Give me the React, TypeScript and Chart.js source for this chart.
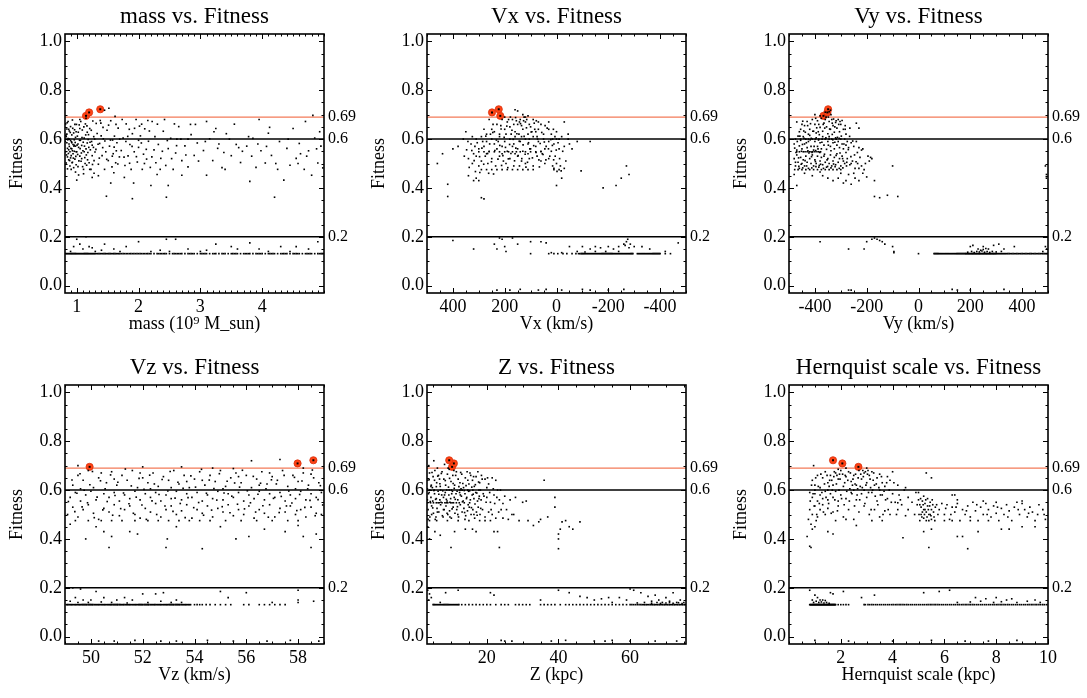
import React, { useEffect, useRef } from 'react';
import { Chart, registerables } from 'chart.js';
Chart.register(...registerables);

const FONT = "'Liberation Serif','Times New Roman',Times,serif";

// ---------- shared values ----------
const fitnessRange = [-0.03, 1.03];
const fitnessTicks = [0, 0.2, 0.4, 0.6, 0.8, 1.0];
const fitLines = [0.2, 0.6, 0.69];
const fitLineColors = ['#000000', '#000000', '#f37a58'];
const floorFitness = 0.131;

// ---------- mass ----------
const massRange = [0.81, 5.0];
const massTicks = [1, 2, 3, 4];
const massBest = [[1.15, .695], [1.2, .709], [1.38, .722]];
const massCloud = [
  [0.82,.662],[0.82,.548],[0.83,.61],[0.83,.502],[0.84,.585],[0.84,.641],[0.85,.527],[0.85,.478],[0.86,.602],[0.86,.672],[0.87,.556],[0.87,.515],[0.88,.633],[0.88,.57],[0.89,.49],[0.89,.548],[0.9,.651],[0.9,.594],[0.91,.532],[0.91,.476],[0.92,.617],[0.92,.56],[0.93,.505],[0.93,.678],[0.94,.578],[0.94,.54],[0.95,.625],[0.95,.483],[0.96,.597],[0.96,.55],[0.97,.518],[0.97,.66],[0.98,.571],[0.98,.607],[0.99,.495],[0.99,.548],[0.84,.62],[0.87,.64],[0.9,.523],[0.93,.552],[0.96,.575],[0.99,.63],[0.85,.562],[0.88,.6],[0.92,.585],
  [1.0,.548],[1.01,.612],[1.02,.487],[1.03,.566],[1.04,.658],[1.05,.53],[1.06,.595],[1.07,.509],[1.08,.574],[1.09,.637],[1.1,.552],[1.11,.476],[1.12,.604],[1.13,.524],[1.14,.662],[1.15,.56],[1.16,.493],[1.17,.584],[1.18,.545],[1.19,.618],[1.2,.503],[1.21,.643],[1.22,.556],[1.23,.476],[1.24,.59],[1.25,.532],[1.26,.674],[1.27,.566],[1.28,.512],[1.29,.6],[1.02,.58],[1.05,.643],[1.08,.52],[1.12,.548],[1.17,.628],[1.21,.476],[1.25,.575],[1.0,.432],[1.25,.443],[1.15,.685],[1.05,.68],
  [1.31,.558],[1.33,.623],[1.35,.497],[1.37,.582],[1.39,.665],[1.41,.532],[1.43,.601],[1.45,.476],[1.47,.548],[1.49,.636],[1.51,.512],[1.53,.571],[1.55,.675],[1.57,.486],[1.59,.54],[1.61,.612],[1.63,.503],[1.65,.585],[1.67,.645],[1.69,.527],[1.35,.45],[1.45,.718],[1.52,.726],[1.55,.42],[1.48,.366],[1.62,.693],[1.38,.676],[1.58,.596],[1.42,.565],[1.64,.552],
  [1.72,.553],[1.75,.604],[1.78,.492],[1.8,.662],[1.83,.531],[1.86,.578],[1.88,.476],[1.9,.622],[1.93,.548],[1.96,.68],[1.98,.506],[2.0,.566],[2.03,.613],[2.06,.476],[2.08,.538],[2.1,.642],[2.13,.518],[2.16,.591],[2.19,.484],[2.22,.672],[2.25,.556],[2.28,.503],[1.9,.356],[1.92,.42],[2.2,.41],[1.77,.443],[2.05,.661],[2.15,.676],[1.85,.64],[2.0,.595],
  [2.32,.578],[2.36,.521],[2.4,.632],[2.44,.492],[2.48,.561],[2.52,.603],[2.56,.476],[2.6,.543],[2.65,.651],[2.7,.512],[2.75,.572],[2.8,.486],[2.85,.618],[2.9,.533],[2.95,.584],[2.45,.362],[2.48,.41],[2.7,.452],[2.42,.68],[2.58,.662],[2.8,.6],[2.35,.476],[2.62,.6],[2.92,.66],
  [3.05,.553],[3.1,.452],[3.15,.601],[3.2,.512],[3.28,.562],[3.35,.483],[3.42,.622],[3.5,.532],[3.58,.578],[3.65,.504],[3.1,.672],[3.25,.643],[3.4,.476],[3.55,.661],[3.3,.58],[3.68,.55],
  [3.75,.571],[3.8,.427],[3.85,.603],[3.9,.484],[3.98,.552],[4.05,.502],[4.1,.624],[4.15,.533],[4.2,.362],[4.25,.476],[3.95,.68],[4.12,.648],[4.22,.5],[3.78,.61],
  [4.35,.432],[4.4,.562],[4.45,.493],[4.5,.643],[4.55,.521],[4.6,.582],[4.68,.476],[4.75,.552],[4.8,.452],[4.85,.604],[4.9,.502],[4.95,.571],[4.82,.697],[4.7,.672],[4.98,.482],[4.62,.54]
];
const massExtra = [[0.815,.59],[0.825,.615],[0.835,.535],[0.845,.667],[0.855,.597],[0.865,.541],[0.875,.58],[0.885,.512],[0.895,.627],[0.905,.562],[0.915,.589],[0.925,.503],[0.935,.644],[0.945,.522],[0.955,.571],[0.965,.638],[0.975,.586],[0.985,.529],[0.995,.66],[1.005,.575],[1.015,.537],[1.025,.628],[1.035,.511],[1.045,.595],[1.055,.561],[1.065,.672],[1.075,.543],[1.085,.606],[1.095,.487],[1.105,.587],[1.115,.65],[1.125,.571],[1.135,.5],[1.145,.617],[1.155,.535],[1.165,.654],[1.175,.515],[1.185,.598],[1.195,.566],[1.215,.587],[1.235,.636],[1.255,.496],[1.275,.61],[1.295,.547],[1.315,.664],[1.345,.579],[1.365,.522],[1.395,.613],[1.425,.648],[1.455,.592],[1.485,.517],[1.515,.657],[1.545,.596],[1.575,.53],[1.605,.567],[1.635,.66],[1.665,.498],[1.695,.6],[1.735,.68],[1.765,.526],[1.795,.59],[1.825,.611],[1.855,.501],[1.895,.57],[1.935,.644],[1.965,.528],[2.015,.653],[2.045,.584],[2.095,.5],[2.125,.558],[2.175,.633],[2.215,.527],[2.265,.61],[2.305,.661],[2.385,.55],[2.465,.594],[2.535,.52],[2.615,.573],[2.685,.6],[2.765,.535],[2.84,.66],[2.97,.51],[3.08,.59],[3.22,.63],[3.38,.545],[3.47,.6],[3.62,.565],[3.83,.53],[3.93,.58],[4.07,.57],[4.28,.59],[4.42,.6],[4.58,.5],[4.72,.53],[4.88,.56],[4.93,.63],[1.03,.453],[1.11,.458],[0.98,.465],[1.28,.46],[1.6,.462],[2.3,.455]];
const massBand = [[1.0,.19],[1.05,.17],[1.1,.15],[1.15,.2],[1.2,.16],[1.3,.14],[1.45,.17],[1.6,.15],[1.8,.16],[2.0,.18],[2.2,.14],[2.35,.145],[2.45,.19],[2.6,.19],[2.8,.15],[3.0,.14],[3.25,.17],[3.5,.16],[3.6,.15],[3.8,.175],[3.95,.15],[4.1,.14],[4.3,.16],[4.55,.16],[4.75,.15],[4.9,.18],[0.9,.14],[0.95,.16],[1.25,.155],[1.4,.145],[1.7,.14],[2.5,.14],[3.1,.145],[4.45,.14]];
const massFloorX = [0.82,0.85,0.88,0.91,0.94,0.97,1.0,1.03,1.06,1.09,1.12,1.15,1.18,1.21,1.24,1.27,1.3,1.34,1.38,1.42,1.46,1.5,1.54,1.58,1.62,1.66,1.7,1.75,1.8,1.85,1.9,1.95,2.0,2.05,2.1,2.15,2.2,2.3,2.35,2.4,2.45,2.55,2.6,2.65,2.7,2.8,2.85,2.9,3.0,3.05,3.1,3.2,3.25,3.35,3.4,3.5,3.55,3.6,3.7,3.75,3.8,3.9,3.95,4.0,4.1,4.15,4.2,4.3,4.35,4.4,4.5,4.55,4.6,4.7,4.75,4.8,4.9,4.95,4.99];
const massFloorX2 = [0.835,0.865,0.895,0.925,0.955,0.985,1.015,1.045,1.075,1.105,1.135,1.165,1.195,1.225,1.255,1.285,1.32,1.36,1.4,1.44,1.48,1.52,1.56,1.6,1.64,1.68,1.725,1.775,1.825,1.875,1.925,1.975,2.025,2.075,2.125,2.175,2.25,2.325,2.375,2.425,2.5,2.575,2.625,2.675,2.75,2.825,2.875,2.95,3.025,3.075,3.15,3.225,3.3,3.375,3.45,3.525,3.575,3.65,3.725,3.775,3.85,3.925,3.975,4.05,4.125,4.175,4.25,4.325,4.375,4.45,4.525,4.575,4.65,4.725,4.775,4.85,4.925,4.97];

// ---------- Vx ----------
const vxRange = [-500, 500];
const vxTicks = [400, 200, 0, -200, -400];
const vxBest = [[217, .695], [249, .709], [223, .722]];
const vxCloud = [
  [250,.64],[230,.66],[210,.68],[190,.67],[180,.65],[170,.68],[160,.63],[150,.66],[140,.68],[130,.64],[120,.67],[110,.62],[100,.65],[90,.68],[80,.63],[60,.66],[50,.62],[220,.62],[200,.64],[175,.62],[155,.675],[135,.655],[115,.68],[95,.63],[70,.64],[240,.63],[260,.68],[200,.69],[185,.68],[165,.66],[145,.62],[125,.69],[105,.66],[-30,.67],[30,.64],[20,.62],[0,.63],[160,.72],[150,.715],[130,.7],[110,.695],[120,.69],
  [330,.58],[310,.6],[300,.56],[290,.61],[280,.57],[270,.59],[260,.55],[250,.6],[240,.58],[230,.56],[220,.61],[210,.57],[200,.59],[190,.55],[180,.6],[170,.57],[160,.61],[150,.56],[140,.59],[130,.55],[120,.6],[110,.58],[100,.56],[90,.61],[80,.57],[70,.59],[60,.55],[50,.6],[40,.57],[30,.59],[20,.55],[10,.58],[0,.6],[-10,.56],[-20,.61],[315,.57],[285,.59],[255,.62],[225,.59],[195,.62],[165,.58],[135,.61],[105,.6],[75,.61],[45,.56],[15,.6],
  [300,.548],[280,.548],[260,.548],[240,.548],[220,.548],[200,.548],[185,.548],[170,.548],[155,.548],[140,.548],[120,.548],[100,.548],[80,.548],[60,.548],
  [340,.52],[325,.5],[310,.53],[300,.49],[290,.51],[275,.53],[265,.5],[250,.52],[235,.49],[220,.53],[205,.51],[195,.5],[180,.52],[165,.49],[150,.53],[135,.51],[120,.5],[105,.52],[90,.49],[75,.53],[60,.51],[45,.5],[30,.52],[15,.49],[0,.5],[-15,.49],[320,.54],[270,.54],[210,.54],[160,.54],[110,.54],[55,.54],[5,.53],
  [290,.475],[270,.475],[250,.475],[230,.475],[210,.475],[190,.475],[170,.475],[150,.475],[130,.475],[110,.475],[90,.475],[10,.475],[-10,.475],[-30,.48],
  [460,.5],[420,.415],[400,.56],[440,.54],[380,.57],[420,.365],[360,.6],[350,.63],[340,.45],[320,.43],[290,.36],[280,.355],[0,.41],[-20,.44],[10,.48],[-50,.58],[-80,.59],[-95,.47],[-130,.59],[-180,.4],[-230,.41],[-250,.44],[-270,.49],[-280,.455],[-10,.6],[-30,.57],[30,.67],[310,.44],[300,.43]
];
const vxExtra = [[327,.553],[318,.512],[306,.585],[297,.528],[288,.563],[281,.497],[273,.612],[266,.541],[258,.58],[251,.507],[246,.627],[238,.553],[232,.596],[226,.518],[219,.574],[214,.641],[207,.532],[202,.607],[197,.566],[192,.653],[186,.519],[181,.578],[176,.541],[172,.636],[167,.599],[162,.511],[157,.563],[153,.622],[148,.532],[144,.591],[139,.663],[134,.52],[129,.576],[125,.611],[121,.538],[116,.646],[112,.505],[108,.585],[103,.56],[98,.629],[93,.523],[88,.573],[84,.64],[79,.545],[73,.6],[68,.515],[63,.582],[57,.627],[52,.537],[47,.588],[41,.515],[36,.645],[31,.56],[26,.53],[22,.598],[16,.574],[11,.515],[6,.61],[1,.555],[-6,.585],[-12,.52],[-24,.55],[-36,.51],[-45,.6],[337,.484],[313,.467],[296,.463],[262,.46],[243,.457],[212,.492],[188,.483],[143,.49],[118,.485],[66,.486],[-2,.468],[-18,.47],[356,.53],[347,.556],[342,.59],[325,.61],[280,.64],[270,.62],[245,.66],[215,.655],[178,.69],[158,.688],[143,.67],[127,.675],[86,.665],[78,.675],[70,.67],[44,.655],[12,.64],[-45,.62],[-60,.56]];
const vxBand = [[400,.185],[320,.15],[220,.195],[210,.19],[170,.195],[240,.17],[230,.15],[200,.16],[195,.14],[150,.17],[100,.18],[60,.18],[40,.175],[20,.135],[-20,.135],[-50,.16],[-80,.14],[-100,.16],[-130,.15],[-150,.16],[-170,.155],[-200,.16],[-220,.15],[-240,.16],[-260,.17],[-270,.18],[-275,.19],[-280,.155],[-300,.16],[-330,.16],[-360,.15],[-420,.14],[-470,.175],[-285,.17],[-265,.165],[-150,.14],[-190,.14],[-240,.14],[-110,.138],[230,-.018],[180,-.018],[140,-.015],[70,-.018],[40,-.015],[-100,-.015],[-200,-.018],[-260,-.015],[-130,-.018],[-20,-.018]];
const vxFloorX = [-95,-103,-111,-119,-127,-135,-143,-151,-159,-167,-175,-183,-191,-199,-207,-215,-223,-231,-239,-247,-255,-263,-271,-279,-287,-295,-312,-320,-328,-336,-344,-352,-360,-368,-376,-384,-392,-400,-420,-440,30,10,-5,-25,-40,-60,-75,-85,100,-90];
const vxFloorX2 = [-99,-107,-115,-123,-131,-139,-147,-155,-163,-171,-179,-187,-195,-203,-211,-219,-227,-235,-243,-251,-259,-267,-275,-283,-291,-316,-324,-332,-340,-348,-356,-364,-372,-380,-388,-396];

// ---------- Vy ----------
const vyRange = [-500, 500];
const vyTicks = [-400, -200, 0, 200, 400];
const vyBest = [[-367, .695], [-352, .709], [-349, .722]];
const vyCloud = [
  [-440,.655],[-430,.672],[-420,.64],[-410,.68],[-400,.66],[-395,.625],[-390,.675],[-380,.648],[-375,.685],[-370,.632],[-365,.665],[-360,.68],[-355,.65],[-350,.622],[-345,.672],[-340,.64],[-335,.68],[-330,.655],[-325,.628],[-320,.668],[-315,.645],[-310,.68],[-305,.63],[-300,.66],[-295,.676],[-290,.64],[-280,.62],[-460,.63],[-450,.66],[-425,.62],[-405,.632],[-385,.66],[-362,.645],[-348,.69],[-338,.7],[-328,.682],[-318,.675],[-240,.665],[-230,.645],[-470,.67],[-400,.7],[-380,.695],[-340,.718],[-360,.71],[-345,.712],
  [-480,.58],[-475,.6],[-470,.555],[-465,.612],[-460,.572],[-455,.595],[-450,.56],[-445,.61],[-440,.58],[-435,.6],[-430,.565],[-425,.59],[-420,.615],[-415,.57],[-410,.6],[-405,.555],[-400,.59],[-395,.605],[-390,.57],[-385,.6],[-380,.585],[-375,.56],[-370,.61],[-365,.575],[-360,.6],[-355,.558],[-350,.59],[-345,.61],[-340,.57],[-335,.6],[-330,.585],[-325,.56],[-320,.605],[-315,.575],[-310,.59],[-305,.565],[-300,.6],[-295,.58],[-290,.56],[-285,.6],[-280,.575],[-275,.59],[-270,.565],[-260,.585],[-250,.57],[-230,.565],[-220,.555],[-240,.59],[-455,.6],[-425,.6],[-398,.6],[-372,.6],[-345,.6],[-318,.6],
  [-445,.548],[-438,.548],[-430,.548],[-422,.548],[-415,.548],[-408,.548],[-400,.548],[-392,.548],[-385,.548],[-378,.548],[-470,.548],[-460,.548],
  [-480,.52],[-475,.49],[-470,.535],[-465,.505],[-460,.48],[-455,.525],[-450,.5],[-445,.515],[-440,.49],[-435,.53],[-430,.505],[-425,.48],[-420,.52],[-415,.5],[-410,.535],[-405,.49],[-400,.515],[-395,.5],[-390,.53],[-385,.485],[-380,.51],[-375,.525],[-370,.495],[-365,.53],[-360,.505],[-355,.485],[-350,.52],[-345,.5],[-340,.535],[-335,.49],[-330,.51],[-325,.525],[-320,.495],[-315,.54],[-310,.505],[-305,.52],[-300,.49],[-295,.53],[-290,.51],[-285,.5],[-275,.52],[-265,.495],[-255,.51],[-245,.48],[-235,.5],[-220,.49],[-210,.475],[-195,.53],[-185,.525],[-180,.52],[-230,.48],[-260,.5],[-280,.545],
  [-478,.475],[-465,.475],[-450,.475],[-435,.475],[-420,.475],[-405,.475],[-390,.475],[-375,.475],[-360,.475],[-345,.475],[-330,.475],[-315,.475],[-300,.475],
  [-470,.41],[-370,.45],[-350,.44],[-330,.43],[-310,.44],[-290,.42],[-280,.43],[-260,.415],[-250,.46],[-230,.43],[-215,.46],[-200,.445],[-170,.43],[-170,.365],[-150,.36],[-120,.37],[-80,.365],[-100,.49],[490,.49],[494,.455],[494,.44]
];
const vyExtra = [[-478,.563],[-473,.545],[-468,.59],[-463,.523],[-458,.612],[-453,.497],[-448,.578],[-443,.633],[-438,.512],[-433,.585],[-428,.655],[-423,.543],[-418,.597],[-413,.528],[-408,.632],[-403,.57],[-398,.508],[-393,.646],[-388,.56],[-383,.618],[-378,.497],[-373,.587],[-368,.66],[-363,.538],[-358,.604],[-353,.515],[-348,.575],[-343,.641],[-338,.552],[-333,.619],[-328,.498],[-323,.587],[-318,.533],[-313,.607],[-308,.66],[-303,.543],[-298,.612],[-293,.52],[-288,.58],[-283,.64],[-277,.505],[-271,.557],[-266,.611],[-261,.528],[-254,.592],[-247,.535],[-241,.507],[-236,.545],[-226,.525],[-215,.56],[-205,.5],[-190,.51],[-455,.64],[-447,.673],[-437,.628],[-417,.663],[-397,.685],[-387,.63],[-357,.69],[-333,.665],[-323,.65],[-303,.672],[-283,.655],[-265,.645],[-475,.505],[-462,.488],[-447,.482],[-432,.49],[-412,.482],[-396,.487],[-383,.492],[-367,.48],[-351,.488],[-338,.482],[-322,.487],[-306,.48],[-292,.482],[-278,.49],[-452,.55],[-427,.552],[-411,.545],[-397,.553],[-381,.545],[-442,.603],[-414,.603],[-386,.596],[-358,.604],[-331,.597],[-306,.603],[-480,.455],[-440,.46],[-410,.45],[-380,.465],[-300,.46],[-270,.455],[-245,.44]];
const vyBand = [[-380,.18],[-270,.15],[-210,.15],[-200,.18],[-180,.19],[-170,.195],[-160,.19],[-150,.185],[-140,.18],[-130,.17],[-100,.16],[-95,.14],[-95,.135],[200,.16],[210,.165],[230,.15],[250,.16],[270,.15],[290,.165],[310,.17],[330,.15],[370,.16],[490,.16],[495,.15],[480,.14],[190,.137],[205,.14],[215,.136],[225,.14],[235,.138],[245,.142],[255,.137],[265,.14],[275,.136],[240,.145],[250,.148],[260,.152],[285,.14],[300,.138],[320,.14],[-270,-.018],[-260,-.018],[130,-.015],[150,-.018],[330,-.015],[200,-.018]];
const vyFloorX = [0,60,68,76,84,92,100,108,116,124,132,140,148,156,164,172,180,186,192,198,204,210,216,222,228,234,240,246,252,258,264,270,276,282,288,294,300,308,316,324,332,340,350,360,370,380,390,400,410,420,430,440,450,460,470,480,490,498];
const vyFloorX2 = [64,72,80,88,96,104,112,120,128,136,144,152,160,168,176,183,189,195,201,207,213,219,225,231,237,243,249,255,261,267,273,279,285,291,297,304,312,320,328,336,345,355,365,375,385,395,405,415,425,435,445,455,465,475,485,494];

// ---------- Vz ----------
const vzRange = [49, 59];
const vzTicks = [50, 52, 54, 56, 58];
const vzBest = [[49.95, .695], [57.98, .709], [58.59, .722]];
const vzCloud = [
  [49.3,.62],[49.5,.66],[49.7,.64],[49.9,.68],[50.1,.61],[50.3,.65],[50.6,.63],[50.8,.675],[51.0,.62],[51.2,.66],[51.4,.64],[51.6,.68],[51.8,.61],[52.0,.65],[52.2,.63],[52.4,.67],[52.6,.615],[52.8,.655],[53.0,.64],[53.2,.68],[53.4,.625],[53.6,.66],[53.8,.61],[54.0,.645],[54.2,.675],[54.4,.62],[54.6,.66],[54.8,.635],[55.0,.68],[55.2,.615],[55.4,.65],[55.6,.67],[55.8,.63],[56.0,.66],[56.2,.61],[56.4,.645],[56.6,.675],[56.8,.625],[57.0,.655],[57.2,.64],[57.4,.68],[57.6,.615],[57.8,.66],[58.0,.635],[58.2,.67],[58.4,.62],[58.6,.65],[58.8,.63],[49.6,.605],[50.9,.645],[52.3,.605],[53.7,.635],[55.1,.605],[56.5,.62],[57.9,.605],[54.3,.64],[55.7,.655],[51.9,.67],[50.4,.67],[56.9,.67],[58.5,.665],[53.1,.61],
  [49.5,.7],[52.0,.695],[53.5,.695],[54.7,.69],[56.2,.72],[57.3,.725],[55.5,.688],[58.2,.69],
  [49.2,.57],[49.4,.59],[49.6,.555],[49.8,.58],[50.0,.595],[50.2,.56],[50.5,.585],[50.7,.57],[50.9,.59],[51.1,.555],[51.3,.58],[51.5,.565],[51.7,.595],[51.9,.56],[52.1,.585],[52.3,.57],[52.5,.59],[52.7,.555],[52.9,.58],[53.1,.565],[53.3,.595],[53.5,.56],[53.7,.585],[53.9,.57],[54.1,.59],[54.3,.555],[54.5,.58],[54.7,.565],[54.9,.595],[55.1,.56],[55.3,.585],[55.5,.57],[55.7,.59],[55.9,.555],[56.1,.58],[56.3,.565],[56.5,.595],[56.7,.56],[56.9,.585],[57.1,.57],[57.3,.59],[57.5,.555],[57.7,.58],[57.9,.565],[58.1,.595],[58.3,.56],[58.5,.585],[58.7,.57],[58.9,.59],
  [49.1,.5],[49.3,.53],[49.5,.49],[49.7,.52],[49.9,.54],[50.1,.505],[50.3,.48],[50.5,.525],[50.7,.51],[50.9,.54],[51.1,.495],[51.3,.52],[51.5,.535],[51.7,.5],[51.9,.485],[52.1,.525],[52.3,.51],[52.5,.545],[52.7,.49],[52.9,.52],[53.1,.535],[53.3,.5],[53.5,.515],[53.7,.54],[53.9,.485],[54.1,.52],[54.3,.505],[54.5,.535],[54.7,.49],[54.9,.525],[55.1,.51],[55.3,.54],[55.5,.495],[55.7,.52],[55.9,.5],[56.1,.535],[56.3,.485],[56.5,.52],[56.7,.505],[56.9,.54],[57.1,.49],[57.3,.525],[57.5,.51],[57.7,.535],[57.9,.5],[58.1,.52],[58.3,.49],[58.5,.53],[58.7,.505],[58.9,.5],
  [49.4,.475],[49.9,.475],[50.4,.475],[50.8,.475],[51.2,.475],[51.7,.475],[52.2,.475],[52.6,.475],[53.0,.475],[53.4,.475],[53.8,.475],[54.2,.475],[54.6,.475],[55.2,.475],[55.8,.475],[56.4,.475],[57.0,.475],[57.6,.475],[58.0,.475],
  [49.8,.4],[50.7,.365],[50.5,.43],[50.8,.41],[51.5,.43],[51.8,.42],[52.9,.365],[52.95,.4],[54.3,.36],[55.6,.4],[56.1,.41],[57.5,.43],[58.2,.41],[58.5,.365],[58.7,.42],[49.2,.46],[50.2,.45],[53.3,.45],[55.0,.45],[56.7,.44],[58.0,.455]
];
const vzExtra = [[49.13,.553],[49.27,.641],[49.38,.512],[49.46,.587],[49.58,.667],[49.66,.531],[49.74,.599],[49.87,.548],[49.96,.622],[50.06,.676],[50.13,.487],[50.24,.571],[50.37,.638],[50.46,.519],[50.55,.605],[50.63,.553],[50.76,.662],[50.84,.497],[50.93,.578],[51.04,.632],[51.15,.524],[51.26,.588],[51.33,.686],[51.47,.544],[51.56,.617],[51.64,.505],[51.75,.571],[51.86,.648],[51.97,.539],[52.05,.603],[52.14,.48],[52.27,.661],[52.36,.556],[52.45,.625],[52.54,.5],[52.63,.582],[52.75,.643],[52.86,.535],[52.97,.596],[53.06,.676],[53.17,.513],[53.25,.567],[53.36,.632],[53.45,.545],[53.56,.607],[53.64,.487],[53.75,.569],[53.86,.658],[53.97,.528],[54.04,.612],[54.16,.549],[54.27,.685],[54.35,.497],[54.46,.587],[54.57,.641],[54.66,.518],[54.75,.606],[54.86,.559],[54.96,.667],[55.07,.532],[55.14,.588],[55.26,.636],[55.37,.507],[55.44,.575],[55.55,.629],[55.66,.542],[55.74,.612],[55.85,.681],[55.93,.523],[56.04,.597],[56.16,.548],[56.27,.656],[56.36,.51],[56.45,.583],[56.55,.628],[56.64,.536],[56.76,.605],[56.85,.489],[56.97,.642],[57.05,.566],[57.16,.625],[57.27,.508],[57.35,.574],[57.46,.66],[57.55,.535],[57.64,.596],[57.76,.547],[57.86,.652],[57.95,.516],[58.06,.582],[58.15,.637],[58.26,.529],[58.37,.605],[58.46,.558],[58.55,.682],[58.66,.495],[58.77,.561],[58.86,.618],[58.95,.539]];
const vzBand = [[49.3,.2],[49.6,.195],[50.2,.185],[49.4,.16],[49.7,.15],[50,.15],[50.5,.16],[51,.15],[51.3,.16],[51.6,.15],[52,.175],[52.5,.175],[52.8,.18],[53.3,.15],[53.5,.14],[55,.185],[55.3,.16],[56,.18],[57,.14],[58,.19],[58,.15],[58,.14],[58.6,.145],[49.2,.145],[49.5,.14],[49.9,.14],[50.4,.142],[50.8,.14],[51.4,.138],[52.2,.14],[52.7,.145],[53.1,.14],[50.3,-.018],[50.9,-.018],[51.7,-.015],[52.7,-.018],[53.3,-.018],[54.5,-.015],[55.5,-.018],[56.8,-.018],[57.7,-.015],[58.8,-.018]];
const vzFloorX = [49.05,49.12,49.21,49.28,49.37,49.44,49.53,49.6,49.69,49.77,49.84,49.93,50.01,50.08,50.17,50.25,50.32,50.41,50.49,50.56,50.65,50.73,50.8,50.89,50.97,51.04,51.13,51.21,51.28,51.37,51.45,51.52,51.61,51.69,51.76,51.85,51.93,52.0,52.09,52.17,52.24,52.33,52.41,52.48,52.57,52.65,52.72,52.81,52.89,52.96,53.05,53.13,53.2,53.29,53.37,53.44,53.53,53.61,53.68,53.77,53.85,54.0,54.1,54.2,54.3,54.45,54.6,54.8,55.0,55.2,55.4,55.9,56.1,56.5,56.7,56.9,57.1,57.3,57.5];
const vzFloorX2 = [49.09,49.17,49.25,49.33,49.41,49.49,49.57,49.65,49.73,49.81,49.89,49.97,50.05,50.13,50.21,50.29,50.37,50.45,50.53,50.61,50.69,50.77,50.85,50.93,51.01,51.09,51.17,51.25,51.33,51.41,51.49,51.57,51.65,51.73,51.81,51.89,51.97,52.05,52.13,52.21,52.29,52.37,52.45,52.53,52.61,52.69,52.77,52.85,52.93,53.01,53.09,53.17,53.25,53.33,53.41,53.49,53.57,53.65,53.73,53.81];

// ---------- Z ----------
const zRange = [3.3, 75.6];
const zTicks = [20, 40, 60];
const zBest = [[10.3, .695], [10.8, .709], [9.5, .722]];
const zCloud = [
  [3.5,.64],[4.0,.67],[4.5,.62],[5.0,.655],[5.5,.68],[6.0,.63],[6.5,.66],[7.0,.615],[7.5,.675],[8.0,.645],[8.5,.62],[9.0,.665],[9.5,.685],[10.0,.635],[10.5,.66],[11.0,.62],[11.5,.675],[12.0,.645],[12.5,.63],[13.0,.665],[13.5,.61],[14.0,.65],[14.5,.675],[15.0,.625],[15.5,.66],[16.0,.64],[16.5,.615],[17.0,.655],[17.5,.675],[18.0,.63],[18.5,.66],[19.5,.645],[20.5,.625],[21.5,.65],[22.5,.64],[4.8,.61],[6.8,.645],[8.8,.6],[10.8,.68],[12.8,.605],[3.8,.7],[5.2,.72],[8.2,.705],[9.2,.69],[6.2,.69],[36.0,.64],[20.0,.61],[23.0,.6],
  [3.4,.56],[3.9,.59],[4.4,.57],[4.9,.555],[5.4,.585],[5.9,.565],[6.4,.595],[6.9,.56],[7.4,.58],[7.9,.57],[8.4,.59],[8.9,.555],[9.4,.58],[9.9,.565],[10.4,.595],[10.9,.57],[11.4,.585],[11.9,.56],[12.4,.59],[12.9,.575],[13.4,.555],[13.9,.585],[14.4,.57],[14.9,.595],[15.4,.56],[15.9,.58],[16.4,.565],[16.9,.59],[17.4,.555],[17.9,.575],[18.4,.56],[19.0,.585],[20.0,.57],[21.0,.55],[22.0,.58],[23.5,.56],[25.0,.575],[28.0,.57],[30.0,.55],[31.0,.555],[39.0,.57],[4.1,.6],[7.1,.6],[10.1,.6],[13.1,.6],[16.1,.6],
  [3.5,.548],[4.3,.548],[5.1,.548],[5.9,.548],[6.7,.548],[7.5,.548],[8.3,.548],[9.1,.548],[9.9,.548],[10.7,.548],[11.5,.548],[12.3,.548],
  [3.6,.52],[4.1,.49],[4.6,.535],[5.1,.505],[5.6,.48],[6.1,.525],[6.6,.51],[7.1,.54],[7.6,.495],[8.1,.52],[8.6,.535],[9.1,.5],[9.6,.515],[10.1,.485],[10.6,.53],[11.1,.505],[11.6,.52],[12.1,.49],[12.6,.54],[13.1,.51],[13.6,.525],[14.1,.495],[14.6,.515],[15.1,.53],[15.6,.5],[16.1,.52],[16.6,.485],[17.1,.51],[17.6,.53],[18.1,.5],[18.8,.52],[19.5,.49],[20.5,.51],[21.5,.5],[22.5,.485],[24.0,.52],[26.0,.48],[27.0,.5],[29.0,.475],[31.5,.475],[33.0,.455],[35.0,.48],[37.0,.49],[39.0,.53],[41.0,.47],[42.0,.475],[43.0,.45],[44.0,.44],[46.0,.47],[40.5,.44],[34.5,.47],[19.5,.475],[18.0,.475],[15.0,.475],[12.0,.475],[9.0,.475],[6.0,.475],[4.0,.475],[21.0,.475],
  [4.0,.4],[7.0,.415],[10.0,.365],[11.0,.43],[14.0,.44],[16.0,.44],[17.0,.43],[22.0,.43],[23.0,.43],[23.5,.365],[40.0,.42],[40.0,.4],[40.0,.36],[3.5,.45],[5.5,.43]
];
const zExtra = [[3.4,.605],[3.7,.585],[3.9,.642],[4.2,.553],[4.4,.615],[4.7,.672],[4.9,.527],[5.2,.598],[5.4,.64],[5.7,.562],[5.9,.614],[6.2,.51],[6.3,.657],[6.6,.583],[6.9,.626],[7.2,.55],[7.3,.668],[7.7,.597],[7.9,.52],[8.2,.58],[8.4,.639],[8.7,.562],[8.9,.505],[9.3,.612],[9.6,.648],[9.7,.55],[10.2,.585],[10.3,.523],[10.6,.627],[10.9,.607],[11.2,.562],[11.3,.66],[11.7,.595],[11.8,.532],[12.2,.614],[12.6,.58],[12.7,.672],[13.2,.552],[13.3,.627],[13.7,.598],[13.8,.508],[14.2,.618],[14.3,.565],[14.7,.64],[14.8,.54],[15.2,.597],[15.3,.67],[15.7,.528],[15.8,.612],[16.2,.583],[16.3,.655],[16.7,.543],[16.8,.622],[17.2,.588],[17.3,.497],[17.7,.633],[17.8,.565],[18.2,.6],[18.3,.525],[18.7,.645],[19.2,.575],[19.8,.55],[20.2,.65],[20.8,.59],[21.2,.52],[21.8,.605],[22.2,.545],[22.8,.57],[23.3,.51],[23.8,.6],[24.5,.545],[25.5,.52],[26.5,.56],[27.5,.5],[24.5,.485],[3.6,.48],[4.6,.5],[5.8,.49],[7.8,.49],[9.7,.49],[11.9,.5],[13.9,.48],[16.4,.5],[6.4,.548],[8.7,.548],[10.3,.548],[13.7,.548],[15.2,.548],[5.3,.6],[9.5,.6],[12.5,.6],[14.7,.6],[17.8,.6]];
const zBand = [[3.5,.19],[4,.175],[4.5,.16],[3.8,.15],[7,.14],[8.5,.18],[12,.19],[21,.18],[22,.17],[35,.15],[40,.19],[43,.18],[46,.165],[48,.16],[50,.15],[52,.155],[54,.16],[55,.14],[57,.16],[59,.15],[60,.195],[61,.19],[63,.18],[65,.165],[67,.17],[68,.15],[70,.16],[72,.18],[74,.15],[75,.14],[66,.145],[69,.14],[71,.145],[73,.14],[66,.137],[67.5,.14],[68.5,.136],[70,.138],[71,.14],[72,.137],[73.5,.139],[74.5,.136],[64,.14],[62,.138],[24,-.015],[25,-.018],[27,-.018],[38,-.018],[42,-.015],[50,-.018],[53,-.018],[55,-.015],[60,-.018],[67,-.018],[73,-.018]];
const zFloorX = [5,5.6,6.2,6.8,7.4,8,8.6,9.2,9.8,10.4,11,11.6,12.2,13,14,15,16,17,18,19,20,21,22.5,24,25,26,28,29,30,31,32,35,36,37,38,39,40.5,42,44,45,47,48,50,51,52,53,54,55,56,57,58,59,60,61,62,63,63.8,64.5,65.2,66,66.7,67.4,68.1,68.8,69.5,70.2,70.9,71.6,72.3,73,73.7,74.4,75.1];
const zFloorX2 = [60.5,61.5,62.5,63.4,64.1,64.8,65.6,66.3,67,67.7,68.4,69.1,69.8,70.5,71.2,71.9,72.6,73.3,74,74.7,75.4,5.3,5.9,6.5,7.1,7.7,8.3,8.9,9.5,10.1,10.7,11.3,11.9,43,46,49];

// ---------- Hernquist scale ----------
const hernRange = [0, 10];
const hernTicks = [2, 4, 6, 8, 10];
const hernBest = [[2.68, .695], [2.06, .709], [1.7, .722]];
const hernCloud = [
  [0.9,.64],[1.0,.62],[1.1,.66],[1.2,.61],[1.3,.65],[1.4,.675],[1.5,.63],[1.6,.66],[1.7,.62],[1.8,.67],[1.9,.645],[2.0,.68],[2.1,.615],[2.2,.655],[2.3,.675],[2.4,.635],[2.5,.66],[2.6,.62],[2.7,.68],[2.8,.645],[2.9,.67],[3.0,.63],[3.1,.66],[3.2,.675],[3.3,.62],[3.4,.65],[3.5,.665],[3.6,.63],[3.7,.615],[3.8,.655],[3.9,.64],[4.0,.675],[1.75,.675],[1.85,.66],[1.95,.665],[2.85,.68],[2.95,.675],[3.05,.68],[2.45,.62],[2.65,.605],[1.55,.615],[1.65,.64],[2.15,.63],[3.25,.64],[4.2,.62],[4.5,.61],[0.95,.7],[2.2,.69],[3.0,.69],[1.9,.685],[5.3,.67],[5.5,.65],[6.4,.58],[2.55,.625],[2.75,.615],[2.9,.6],[3.15,.61],[2.35,.605],
  [0.8,.59],[0.9,.57],[1.0,.585],[1.1,.555],[1.2,.58],[1.3,.565],[1.4,.595],[1.5,.56],[1.6,.585],[1.7,.57],[1.8,.595],[1.9,.555],[2.0,.58],[2.2,.565],[2.4,.59],[2.6,.56],[2.8,.585],[3.0,.57],[3.2,.59],[3.4,.555],[3.6,.58],[3.8,.565],[4.0,.585],[4.3,.56],[4.6,.57],[4.9,.59],[3.5,.6],[2.5,.6],[1.5,.6],[1.0,.6],[4.1,.55],[4.2,.548],
  [0.8,.52],[0.9,.5],[1.0,.535],[1.1,.49],[1.2,.52],[1.3,.54],[1.4,.5],[1.5,.525],[1.7,.51],[1.9,.535],[2.1,.49],[2.3,.52],[2.5,.48],[2.7,.51],[2.9,.535],[3.1,.5],[3.3,.52],[3.5,.49],[3.7,.515],[3.9,.5],[4.2,.52],[4.5,.495],[1.05,.475],[1.8,.475],[2.2,.48],[3.2,.475],[3.6,.475],
  [5.0,.56],[5.05,.54],[5.1,.53],[5.15,.555],[5.2,.52],[5.25,.545],[5.3,.51],[5.35,.535],[5.4,.5],[5.45,.55],[5.5,.52],[5.55,.54],[5.6,.49],[5.65,.53],[5.1,.5],[5.2,.485],[5.3,.475],[5.4,.475],[5.0,.59],[5.2,.575],[5.35,.565],[5.05,.475],[5.5,.48],[5.15,.51],[5.45,.5],[5.25,.52],[5.8,.52],[5.9,.545],[6.0,.5],[6.1,.54],[6.2,.48],[6.3,.53],[6.4,.51],[6.5,.545],[6.6,.475],[6.7,.52],[6.8,.5],[6.9,.535],[7.0,.49],[7.1,.55],[7.2,.515],[7.3,.475],[7.4,.53],[7.5,.5],[7.6,.545],[7.7,.52],[7.8,.49],[7.9,.535],[8.0,.505],[8.1,.475],[8.2,.525],[8.3,.5],[8.4,.54],[8.5,.515],[8.6,.475],[8.7,.53],[8.8,.55],[8.9,.5],[9.0,.545],[9.1,.52],[9.2,.49],[9.3,.53],[9.4,.51],[9.5,.475],[9.6,.5],[9.8,.52],[9.9,.48],[6.0,.475],[6.3,.475],[7.0,.475],[7.7,.475],[6.5,.56],[7.5,.555],[8.0,.55],[9.0,.555],[6.3,.58],
  [0.7,.41],[0.75,.48],[0.8,.37],[0.85,.365],[0.9,.44],[1.5,.43],[1.7,.42],[2.6,.455],[4.4,.405],[5.2,.43],[5.4,.365],[5.5,.44],[6.5,.41],[6.7,.41],[6.9,.36],[7.3,.43],[8.2,.44],[8.5,.44],[9.0,.45],[9.5,.45],[0.85,.46],[1.0,.45]
];
const hernExtra = [[0.82,.555],[0.87,.62],[0.93,.585],[0.97,.535],[1.03,.65],[1.07,.5],[1.13,.615],[1.17,.545],[1.23,.665],[1.27,.59],[1.33,.51],[1.37,.625],[1.43,.57],[1.47,.66],[1.53,.545],[1.57,.64],[1.63,.505],[1.67,.6],[1.73,.655],[1.77,.56],[1.83,.625],[1.87,.515],[1.93,.6],[1.97,.645],[2.03,.565],[2.07,.665],[2.13,.54],[2.17,.66],[2.23,.595],[2.27,.64],[2.33,.555],[2.37,.67],[2.43,.585],[2.47,.645],[2.53,.535],[2.57,.665],[2.63,.58],[2.67,.65],[2.73,.56],[2.77,.665],[2.83,.61],[2.87,.655],[2.93,.545],[2.97,.62],[3.03,.665],[3.07,.59],[3.13,.645],[3.17,.52],[3.23,.6],[3.27,.67],[3.33,.575],[3.37,.625],[3.43,.54],[3.47,.61],[3.53,.58],[3.57,.655],[3.63,.5],[3.67,.595],[3.73,.56],[3.77,.63],[3.83,.52],[3.87,.6],[3.95,.55],[4.05,.63],[4.15,.5],[4.25,.58],[4.35,.54],[4.45,.6],[4.6,.52],[4.75,.55],[4.85,.5],[4.95,.54],[5.02,.5],[5.08,.565],[5.13,.49],[5.18,.54],[5.23,.5],[5.28,.56],[5.33,.49],[5.38,.52],[5.43,.535],[5.48,.495],[5.53,.56],[5.58,.51],[5.63,.475],[5.7,.54],[5.75,.5],[6.05,.525],[6.25,.5],[6.45,.53],[6.85,.515],[7.25,.54],[7.65,.5],[8.05,.53],[8.45,.49],[8.85,.52],[9.25,.505],[9.65,.54],[9.85,.5]];
const hernBand = [[0.8,.19],[1.0,.17],[1.1,.16],[1.2,.15],[1.3,.15],[1.6,.18],[1.7,.175],[2.1,.185],[2.8,.16],[3.3,.17],[5.2,.18],[5.8,.185],[6.2,.19],[7.2,.16],[7.6,.155],[8,.16],[8.4,.15],[8.6,.155],[9.2,.145],[9.5,.15],[0.9,.15],[1.05,.145],[1.15,.14],[1.25,.142],[1.35,.138],[1.45,.14],[1.55,.137],[0.95,.14],[1.4,.148],[6.5,.14],[7.0,.142],[7.4,.145],[7.9,.14],[8.2,.143],[8.8,.14],[9.7,.14],[1,-.015],[2.3,-.018],[4,-.018],[5.5,-.015],[6.8,-.018],[7.7,-.018],[8.8,-.015]];
const hernFloorX = [0.8,0.84,0.88,0.92,0.96,1.0,1.04,1.08,1.12,1.16,1.2,1.24,1.28,1.32,1.36,1.4,1.44,1.48,1.52,1.56,1.6,1.64,1.68,1.72,1.76,1.8,1.9,2.0,2.1,2.2,2.3,2.9,3.05,3.2,3.35,3.5,3.65,3.8,3.95,4.1,4.25,4.4,4.55,4.7,4.85,5.0,5.15,5.3,5.45,5.6,5.75,5.9,6.05,6.2,6.35,6.5,6.65,6.8,6.95,7.1,7.25,7.4,7.55,7.7,7.85,8.0,8.15,8.3,8.45,8.6,8.75,8.9,9.05,9.2,9.35,9.5,9.65,9.8,9.95];
const hernFloorX2 = [0.82,0.86,0.9,0.94,0.98,1.02,1.06,1.1,1.14,1.18,1.22,1.26,1.3,1.34,1.38,1.42,1.46,1.5,1.54,1.58,1.62,1.66,1.7,1.74,1.78,2.95,3.12,3.27,3.42,3.57,3.72,3.87,4.02,4.17,4.32,4.47,4.62,4.77,4.92,5.07,5.22,5.37,5.52,5.67,5.82,5.97,6.12,6.27,6.42,6.57,6.72,6.87,7.02,7.17,7.32,7.47,7.62,7.77,7.92,8.07,8.22,8.37,8.52,8.67,8.82,8.97,9.12,9.27,9.42,9.57,9.72,9.87];

type Pair = number[];
interface PanelCfg {
  title: string; xLabel: string; range: number[]; reverse: boolean;
  ticks: number[]; minorStep: number;
  cloud: Pair[]; band: Pair[]; floorX: number[]; best: Pair[];
}

const panels: PanelCfg[] = [
  { title: 'mass vs. Fitness', xLabel: 'mass (10\u2079 M_sun)', range: massRange, reverse: false, ticks: massTicks, minorStep: 0.1, cloud: [...massCloud, ...massExtra], band: massBand, floorX: [...massFloorX, ...massFloorX2], best: massBest },
  { title: 'Vx vs. Fitness', xLabel: 'Vx (km/s)', range: vxRange, reverse: true, ticks: vxTicks, minorStep: 50, cloud: [...vxCloud, ...vxExtra], band: vxBand, floorX: [...vxFloorX, ...vxFloorX2], best: vxBest },
  { title: 'Vy vs. Fitness', xLabel: 'Vy (km/s)', range: vyRange, reverse: false, ticks: vyTicks, minorStep: 50, cloud: [...vyCloud, ...vyExtra], band: vyBand, floorX: [...vyFloorX, ...vyFloorX2], best: vyBest },
  { title: 'Vz vs. Fitness', xLabel: 'Vz (km/s)', range: vzRange, reverse: false, ticks: vzTicks, minorStep: 0.5, cloud: [...vzCloud, ...vzExtra], band: vzBand, floorX: [...vzFloorX, ...vzFloorX2], best: vzBest },
  { title: 'Z vs. Fitness', xLabel: 'Z (kpc)', range: zRange, reverse: false, ticks: zTicks, minorStep: 5, cloud: [...zCloud, ...zExtra], band: zBand, floorX: [...zFloorX, ...zFloorX2], best: zBest },
  { title: 'Hernquist scale vs. Fitness', xLabel: 'Hernquist scale (kpc)', range: hernRange, reverse: false, ticks: hernTicks, minorStep: 0.5, cloud: [...hernCloud, ...hernExtra], band: hernBand, floorX: [...hernFloorX, ...hernFloorX2], best: hernBest },
];

const boxTicks = {
  id: 'boxTicks',
  afterDatasetsDraw(chart: any, _args: any, opts: any) {
    const { ctx, chartArea: a, scales } = chart;
    const xs = scales.x, ys = scales.y;
    const MAJ = 5, MIN = 2.5;
    ctx.save();
    ctx.strokeStyle = '#000';
    ctx.lineWidth = 1;
    const seg = (x1: number, y1: number, x2: number, y2: number) => { ctx.beginPath(); ctx.moveTo(x1, y1); ctx.lineTo(x2, y2); ctx.stroke(); };
    const xTick = (v: number, len: number) => {
      const p = Math.round(xs.getPixelForValue(v)) + 0.5;
      seg(p, a.bottom, p, a.bottom - len); seg(p, a.top, p, a.top + len);
    };
    const yTick = (v: number, len: number) => {
      const p = Math.round(ys.getPixelForValue(v)) + 0.5;
      seg(a.left, p, a.left + len, p); seg(a.right, p, a.right - len, p);
    };
    const minors = (lo: number, hi: number, step: number) => {
      const out: number[] = [];
      for (let k = Math.ceil(lo / step - 1e-9); k * step <= hi + 1e-9; k++) out.push(k * step);
      return out;
    };
    minors(opts.xMin, opts.xMax, opts.xStep).forEach((v) => xTick(v, MIN));
    opts.xMajors.forEach((v: number) => xTick(v, MAJ));
    minors(fitnessRange[0], fitnessRange[1], 0.05).forEach((v) => yTick(v, MIN));
    fitnessTicks.forEach((v) => yTick(v, MAJ));
    ctx.lineWidth = 1.6;
    ctx.strokeRect(a.left, a.top, a.right - a.left, a.bottom - a.top);
    ctx.restore();
  },
};

const W = 362, H = 349;

function Panel({ cfg, left, top }: { cfg: PanelCfg; left: number; top: number }) {
  const ref = useRef<HTMLCanvasElement>(null);
  useEffect(() => {
    const canvas = ref.current!;
    const [xMin, xMax] = cfg.range;
    const toXY = (p: Pair) => ({ x: p[0], y: p[1] });
    const points = [...cfg.cloud.map(toXY), ...cfg.band.map(toXY), ...cfg.floorX.map((x) => ({ x, y: floorFitness }))];
    const lineSets = fitLines.map((v, i) => ({
      data: [{ x: xMin, y: v }, { x: xMax, y: v }],
      showLine: true, pointRadius: 0, borderColor: fitLineColors[i], borderWidth: 1.4, order: 3,
    }));
    const chart = new Chart(canvas, {
      type: 'scatter',
      data: {
        datasets: [
          { data: cfg.best.map(toXY), pointStyle: 'rect', pointRadius: 1.4, backgroundColor: '#000', borderWidth: 0, order: 0 },
          { data: points, pointStyle: 'rect', pointRadius: 1.15, backgroundColor: '#000', borderWidth: 0, order: 1 },
          { data: cfg.best.map(toXY), pointStyle: 'circle', pointRadius: 3.6, backgroundColor: '#ff4314', borderColor: '#d9300c', borderWidth: 0.8, order: 2 },
          ...lineSets,
        ] as any,
      },
      options: {
        responsive: false,
        maintainAspectRatio: false,
        devicePixelRatio: 1,
        animation: false,
        events: [],
        layout: { padding: 0 },
        plugins: {
          legend: { display: false },
          tooltip: { enabled: false },
          title: {
            display: true, text: cfg.title, fullSize: false, color: '#000',
            font: { family: FONT, size: 23, weight: 'normal', lineHeight: 1.2 },
            padding: { top: 3, bottom: 3.4 },
          },
          boxTicks: { xMin, xMax, xStep: cfg.minorStep, xMajors: cfg.ticks },
        } as any,
        scales: {
          x: {
            type: 'linear', position: 'bottom', min: xMin, max: xMax, reverse: cfg.reverse,
            grid: { display: false, drawTicks: false }, border: { display: false },
            ticks: { color: '#000', font: { family: FONT, size: 18 }, padding: 3, maxRotation: 0, autoSkip: false, callback: (v: any) => String(v) },
            afterBuildTicks: (s: any) => { s.ticks = cfg.ticks.map((value) => ({ value })); },
            afterFit: (s: any) => { s.height = H - 293; },
            title: { display: true, text: cfg.xLabel, color: '#000', font: { family: FONT, size: 18, lineHeight: 1.2 }, padding: { top: 0, bottom: 14 } },
          },
          y: {
            type: 'linear', position: 'left', min: fitnessRange[0], max: fitnessRange[1],
            grid: { display: false, drawTicks: false }, border: { display: false },
            ticks: { color: '#000', font: { family: FONT, size: 18 }, padding: 3, autoSkip: false, callback: (v: any) => Number(v).toFixed(1) },
            afterBuildTicks: (s: any) => { s.ticks = fitnessTicks.map((value) => ({ value })); },
            afterFit: (s: any) => { s.width = 65; },
            title: { display: true, text: 'Fitness', color: '#000', font: { family: FONT, size: 18, lineHeight: 1.2 }, padding: { top: 6, bottom: 0 } },
          },
          y2: {
            type: 'linear', position: 'right', min: fitnessRange[0], max: fitnessRange[1],
            grid: { display: false, drawTicks: false }, border: { display: false },
            ticks: { color: '#000', font: { family: FONT, size: 16 }, padding: 4, autoSkip: false, callback: (v: any) => String(v) },
            afterBuildTicks: (s: any) => { s.ticks = fitLines.map((value) => ({ value })); },
            afterFit: (s: any) => { s.width = W - 324; },
          },
        } as any,
      },
      plugins: [boxTicks],
    });
    return () => chart.destroy();
  }, [cfg]);
  return <canvas ref={ref} width={W} height={H} style={{ position: 'absolute', left, top, width: W, height: H }} />;
}

export default function App() {
  return (
    <div style={{ position: 'absolute', left: 0, top: 0, width: 1087, height: 698, overflow: 'hidden', background: '#fff' }}>
      {panels.map((p, i) => (
        <Panel key={i} cfg={p} left={(i % 3) * 362} top={i < 3 ? 0 : 351} />
      ))}
    </div>
  );
}
